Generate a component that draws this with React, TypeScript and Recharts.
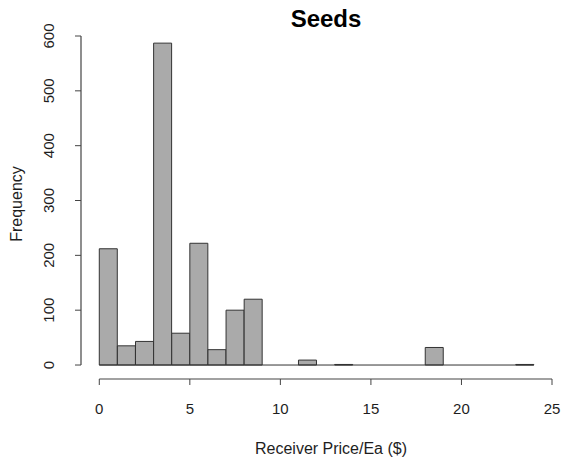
import React from "react";
import { BarChart, Bar, XAxis, YAxis, ReferenceLine } from "recharts";

const binStarts = [0, 1, 2, 3, 4, 5, 6, 7, 8, 9, 10, 11, 12, 13, 14, 15, 16, 17, 18, 19, 20, 21, 22, 23];
const counts = [212, 35, 43, 587, 58, 222, 28, 100, 120, 0, 0, 9, 0, 1, 0, 0, 0, 0, 32, 0, 0, 0, 0, 1];
const xTicks = [0, 5, 10, 15, 20, 25];
const yTicks = [0, 100, 200, 300, 400, 500, 600];

const data = binStarts.map((start, i) => ({ mid: start + 0.5, count: counts[i] }));

const W = 562;
const H = 463;
const yAxisW = 60;
const xAxisH = 40;
const margin = { top: 36, right: 10, bottom: 84 - xAxisH, left: 81 - yAxisW };
const xDomain = [-1.01, 25];
const yDomain = [-25.5, 600];
const font = "'Liberation Sans', Arial, sans-serif";
const ink = "#1e1e1e";
const axisColor = "#444";

// R draws its axes only over the tick range (0..25, 0..600), offset from the bars
const plotLeft = margin.left + yAxisW;
const plotTop = margin.top;
const plotW = W - plotLeft - margin.right;
const plotH = H - margin.top - margin.bottom - xAxisH;
const plotBottom = plotTop + plotH;
const xScale = (v: number) => plotLeft + ((v - xDomain[0]) / (xDomain[1] - xDomain[0])) * plotW;
const yScale = (v: number) => plotTop + ((yDomain[1] - v) / (yDomain[1] - yDomain[0])) * plotH;

const XTick = ({ x, y, payload }: any) => (
  <text x={x} y={y + 27} textAnchor="middle" fontSize={15} fill={ink} fontFamily={font}>
    {payload.value}
  </text>
);

const YTick = ({ x, y, payload }: any) => (
  <text
    x={0}
    y={0}
    transform={`translate(${x - 19},${y}) rotate(-90)`}
    textAnchor="middle"
    fontSize={15}
    fill={ink}
    fontFamily={font}
  >
    {payload.value}
  </text>
);

export default function App() {
  const yTop = yScale(yTicks[yTicks.length - 1]);
  const yBottom = yScale(yTicks[0]);
  const xStart = xScale(xTicks[0]);
  const xEnd = xScale(xTicks[xTicks.length - 1]);
  return (
    <div style={{ position: "absolute", left: 0, top: 0, width: W, height: H, background: "#fff", fontFamily: font }}>
      <div
        style={{
          position: "absolute",
          left: 0,
          width: 652,
          top: 5,
          textAlign: "center",
          fontSize: 24,
          fontWeight: "bold",
          color: "#000",
        }}
      >
        Seeds
      </div>
      <div
        style={{
          position: "absolute",
          left: 0,
          width: 662,
          top: 440,
          textAlign: "center",
          fontSize: 16,
          color: ink,
        }}
      >
        Receiver Price/Ea ($)
      </div>
      <div
        style={{
          position: "absolute",
          left: 17,
          top: 204,
          transform: "translate(-50%, -50%) rotate(-90deg)",
          fontSize: 16,
          color: ink,
          whiteSpace: "nowrap",
        }}
      >
        Frequency
      </div>
      <BarChart width={W} height={H} data={data} margin={margin} barCategoryGap={0} barGap={0}>
        <XAxis
          type="number"
          dataKey="mid"
          domain={xDomain}
          ticks={xTicks}
          allowDataOverflow
          height={xAxisH}
          axisLine={false}
          tickLine={{ stroke: axisColor }}
          tickSize={6}
          tick={<XTick />}
          interval={0}
        />
        <YAxis
          type="number"
          domain={yDomain}
          ticks={yTicks}
          allowDataOverflow
          width={yAxisW}
          axisLine={false}
          tickLine={{ stroke: axisColor }}
          tickSize={6}
          tick={<YTick />}
          interval={0}
        />
        <ReferenceLine
          segment={[{ x: 0, y: 0 }, { x: 24, y: 0 }]}
          stroke="#333"
          ifOverflow="visible"
        />
        <Bar
          dataKey="count"
          fill="#aaaaaa"
          stroke="#333"
          strokeWidth={1}
          isAnimationActive={false}
        />
      </BarChart>
      <svg
        width={W}
        height={H}
        style={{ position: "absolute", left: 0, top: 0, pointerEvents: "none", zIndex: 2 }}
      >
        <line
          x1={plotLeft}
          y1={yTop}
          x2={plotLeft}
          y2={yBottom}
          stroke={axisColor}
          strokeWidth={1.2}
        />
        <line
          x1={xStart}
          y1={plotBottom}
          x2={xEnd}
          y2={plotBottom}
          stroke={axisColor}
          strokeWidth={1.2}
        />
      </svg>
    </div>
  );
}
